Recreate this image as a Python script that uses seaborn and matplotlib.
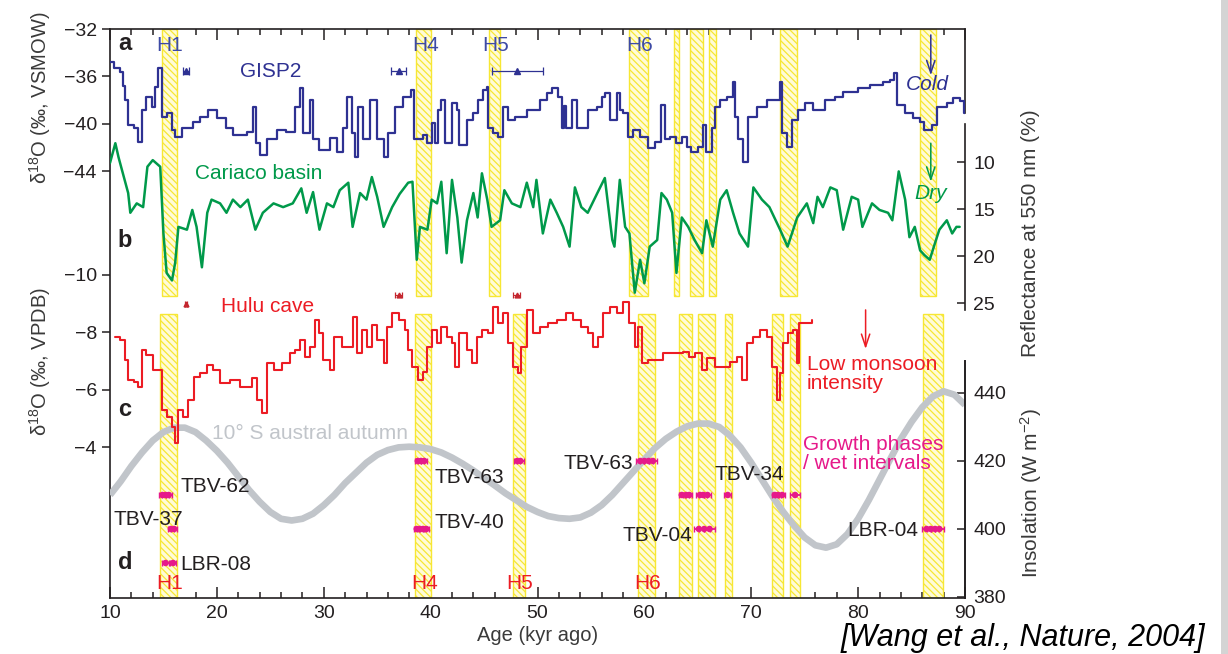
import numpy as np
import pandas as pd
import matplotlib
matplotlib.use("Agg")
import matplotlib.pyplot as plt
from matplotlib.patches import Rectangle
import seaborn as sns

sns.set_style("ticks")
plt.rcParams["font.family"] = ["Liberation Sans", "DejaVu Sans"]
plt.rcParams["mathtext.fontset"] = "custom"
plt.rcParams["mathtext.rm"] = "Liberation Sans"
plt.rcParams["mathtext.it"] = "Liberation Sans:italic"
plt.rcParams["mathtext.default"] = "regular"
plt.rcParams["hatch.linewidth"] = 0.9

# ---------------- data ----------------
gisp_age = [10.0, 10.4, 10.9, 11.2, 11.4, 11.7, 12.2, 12.6, 13.0, 13.4, 13.9, 14.2, 14.5, 14.9, 15.3, 15.8,
            16.1, 16.7, 17.8, 18.4, 19.2, 20.0, 20.9, 21.5, 22.8, 23.4, 23.7, 24.0, 24.7, 25.6, 26.5, 27.3,
            27.8, 28.1, 28.7, 29.0, 29.6, 30.6, 31.2, 31.8, 32.2, 32.6, 32.9, 33.2, 33.7, 34.3, 35.0, 35.6,
            36.0, 36.7, 37.4, 38.2, 38.4, 39.3, 39.7, 40.1, 40.4, 40.7, 41.0, 41.3, 42.0, 42.5, 42.7, 43.4,
            44.0, 44.4, 44.9, 45.3, 45.4, 45.8, 46.3, 46.8, 47.2, 47.9, 49.0, 50.2, 50.9, 51.4, 51.9, 52.3,
            52.5, 52.7, 53.2, 53.7, 54.7, 55.6, 56.0, 56.3, 56.8, 57.4, 57.7, 58.0, 58.5, 58.9, 59.6, 60.3,
            61.0, 61.6, 61.9, 62.4, 63.0, 63.5, 64.0, 64.4, 65.0, 65.5, 65.8, 66.3, 66.6, 67.1, 67.7, 68.3,
            68.5, 68.8, 69.2, 69.7, 70.5, 71.5, 72.7, 72.9, 73.3, 73.8, 74.4, 75.0, 75.8, 76.9, 77.8, 78.6,
            80.0, 81.1, 82.3, 83.0, 83.4, 83.6, 84.4, 85.1, 85.8, 86.2, 86.9, 87.4, 88.3, 88.9, 89.5, 89.9, 90.0]
gisp_d18o = [-34.8, -35.3, -35.6, -36.8, -38.0, -40.1, -40.3, -41.5, -38.8, -37.7, -38.6, -36.9, -35.3, -39.4, -39.1, -40.5,
             -41.1, -40.3, -39.8, -39.4, -38.8, -39.5, -40.3, -40.9, -40.7, -38.6, -41.6, -42.6, -41.3, -40.5, -40.7, -38.6,
             -37.0, -40.8, -38.0, -41.3, -42.2, -41.2, -42.4, -40.3, -37.7, -40.8, -42.8, -38.6, -41.3, -38.0, -41.3, -42.8,
             -40.8, -38.6, -37.7, -37.1, -41.3, -40.9, -41.6, -39.9, -41.6, -38.8, -38.0, -41.6, -38.2, -38.8, -41.8, -39.7,
             -39.1, -38.0, -37.1, -36.9, -40.3, -40.8, -41.1, -38.6, -39.7, -39.4, -38.8, -38.0, -37.4, -37.0, -37.7, -40.3,
             -38.5, -40.3, -38.0, -40.3, -38.8, -38.6, -37.7, -37.4, -39.7, -37.4, -38.8, -39.1, -41.1, -40.5, -41.1, -42.0,
             -41.5, -38.4, -41.3, -41.1, -41.6, -41.1, -41.9, -42.4, -41.9, -40.1, -42.4, -40.3, -38.6, -38.0, -37.7, -36.5,
             -39.4, -41.3, -43.2, -39.4, -38.6, -38.0, -36.5, -40.8, -41.9, -39.7, -38.8, -38.2, -38.8, -38.0, -37.7, -37.3,
             -37.0, -36.7, -36.5, -36.3, -35.7, -38.4, -39.1, -39.5, -39.8, -40.5, -40.1, -38.6, -38.2, -37.8, -38.1, -39.1, -39.1]

cariaco_age = [10.0, 10.5, 10.8, 11.2, 11.7, 11.9, 12.5, 13.1, 13.5, 14.0, 14.7, 15.0, 15.3, 15.8, 16.1, 16.4,
               17.2, 17.7, 18.1, 18.6, 19.1, 19.5, 20.3, 20.9, 21.5, 22.2, 22.9, 23.6, 24.3, 25.3, 26.2, 27.1,
               27.9, 28.4, 29.0, 29.6, 30.3, 30.9, 31.5, 32.3, 32.7, 33.4, 34.0, 34.5, 35.0, 35.6, 36.4, 37.1,
               37.9, 38.3, 38.7, 39.0, 39.7, 40.1, 40.6, 41.0, 41.5, 42.0, 42.5, 42.9, 43.4, 44.0, 44.4, 44.8,
               45.3, 45.7, 46.5, 46.9, 47.6, 48.4, 49.0, 49.6, 49.9, 50.5, 51.2, 51.8, 52.4, 53.0, 53.5, 54.1,
               54.7, 55.6, 56.3, 57.0, 57.2, 57.7, 58.2, 58.6, 59.1, 59.6, 60.0, 60.5, 61.2, 61.6, 62.1, 62.6,
               63.0, 63.5, 64.1, 64.7, 65.4, 65.8, 66.4, 67.1, 67.7, 68.3, 68.9, 69.7, 70.2, 71.0, 71.7, 72.7,
               73.4, 74.3, 75.2, 75.8, 76.2, 76.7, 77.4, 78.0, 78.6, 79.4, 80.0, 80.4, 81.3, 82.0, 82.8, 83.2,
               83.8, 84.4, 84.8, 85.3, 85.8, 86.2, 86.7, 87.2, 87.6, 88.3, 88.8, 89.2, 89.5]
cariaco_refl = [10.1, 8.0, 9.5, 11.2, 13.3, 15.4, 14.4, 14.8, 10.5, 9.8, 10.5, 17.6, 21.8, 22.6, 20.7, 16.9,
                17.2, 15.1, 16.9, 21.2, 15.4, 14.0, 14.4, 15.4, 14.0, 14.8, 14.0, 17.2, 15.4, 14.4, 14.8, 14.4,
                12.8, 15.4, 13.2, 17.2, 14.4, 14.8, 13.0, 12.2, 16.9, 13.3, 14.0, 11.6, 13.7, 16.9, 14.8, 13.4,
                12.2, 12.1, 20.4, 16.9, 17.2, 14.0, 14.4, 12.1, 19.7, 11.9, 15.9, 20.7, 16.2, 13.3, 15.9, 11.2,
                14.0, 16.9, 16.2, 13.0, 14.4, 14.8, 12.2, 14.8, 11.9, 17.6, 14.0, 15.4, 16.9, 19.0, 12.7, 14.8,
                15.4, 13.3, 11.7, 18.3, 19.0, 11.9, 16.9, 17.6, 23.9, 20.4, 22.9, 19.0, 18.3, 13.3, 14.0, 15.4,
                21.8, 15.9, 16.9, 18.3, 19.7, 16.2, 19.0, 14.0, 13.0, 15.4, 17.6, 19.0, 12.7, 14.0, 14.8, 17.2,
                19.0, 15.9, 14.4, 16.5, 13.7, 14.8, 12.7, 13.0, 17.2, 13.7, 14.0, 16.9, 14.4, 15.1, 15.4, 16.2,
                11.0, 14.0, 18.0, 16.9, 19.4, 19.9, 20.4, 18.6, 17.2, 16.2, 17.6, 16.9, 16.9]

hulu_age = [10.5, 10.9, 11.4, 11.7, 12.2, 12.6, 13.0, 13.4, 14.0, 14.5, 14.9, 15.3, 15.8, 16.1, 16.4, 16.8,
            17.3, 17.9, 18.4, 19.1, 19.6, 20.3, 21.2, 22.2, 23.3, 23.8, 24.2, 24.7, 25.3, 26.1, 26.8, 27.3,
            27.8, 28.2, 28.7, 29.2, 29.6, 29.9, 30.6, 31.0, 31.7, 32.3, 32.7, 33.1, 33.6, 34.0, 34.5, 35.0,
            35.6, 35.9, 36.4, 37.0, 37.6, 37.9, 38.3, 38.8, 39.3, 39.7, 40.1, 40.6, 41.0, 41.5, 42.0, 42.3,
            42.7, 43.4, 43.9, 44.3, 44.8, 45.4, 45.8, 46.3, 46.8, 47.2, 47.7, 48.2, 48.5, 49.0, 49.6, 50.2,
            51.0, 51.8, 52.7, 53.3, 54.1, 54.7, 55.2, 55.7, 56.1, 56.8, 57.4, 58.0, 58.6, 59.1, 59.4, 59.8,
            60.3, 61.2, 61.7, 62.7, 63.6, 64.2, 64.7, 65.4, 65.9, 66.6, 67.3, 68.0, 68.7, 69.1, 69.6, 70.2,
            70.8, 71.5, 71.9, 72.4, 72.7, 73.0, 73.4, 73.9, 74.3, 74.5, 75.2, 75.7]
hulu_d18o = [-7.83, -7.72, -7.03, -6.33, -6.26, -6.09, -7.37, -7.20, -6.68, -6.68, -5.29, -5.04, -4.70, -4.14, -5.29, -5.04,
             -5.63, -6.43, -6.57, -6.85, -6.68, -6.23, -6.33, -6.09, -6.40, -5.63, -5.18, -6.92, -6.68, -6.92, -7.27, -7.37,
             -7.72, -7.13, -7.48, -8.42, -7.97, -7.03, -6.68, -7.83, -7.48, -7.48, -8.52, -7.27, -8.07, -7.48, -8.24, -7.72,
             -6.92, -8.17, -8.66, -8.42, -8.07, -7.37, -6.78, -6.33, -6.61, -7.48, -8.07, -7.62, -8.17, -7.83, -7.62, -6.78,
             -7.97, -7.37, -6.92, -7.83, -8.07, -7.97, -8.87, -8.31, -8.66, -7.62, -6.78, -6.57, -7.48, -8.77, -7.97, -8.17,
             -8.31, -8.42, -8.66, -8.42, -8.17, -7.97, -7.48, -7.83, -8.66, -8.87, -8.66, -9.04, -8.31, -7.48, -8.17, -6.92,
             -7.03, -7.03, -7.27, -7.27, -7.30, -7.13, -7.27, -6.68, -7.10, -6.78, -6.78, -6.96, -7.13, -6.33, -7.62, -7.83,
             -8.07, -7.83, -6.78, -5.63, -6.57, -7.62, -7.97, -8.07, -6.92, -8.31, -8.31, -8.42]

insol_age = list(range(10, 91))
insol_wm2 = [410, 414, 418.5, 422.5, 426, 428.5, 429.8, 429.8, 428.5, 426, 423, 419.5, 415.5, 411.5, 408, 405,
             403, 402.5, 403, 404.5, 407, 410, 413.5, 416.5, 419.5, 421.8, 423.2, 424, 424.2, 424, 423.5, 422.5,
             421, 419.2, 417.2, 415, 412.8, 410.5, 408.5, 406.5, 405, 403.8, 403.2, 403, 403.4, 404.8, 407, 410,
             413.5, 417, 420.5, 423.8, 426.5, 428.6, 430.2, 431, 431, 430, 427.5, 424, 419.5, 414.5, 409.5, 405,
             401, 397.5, 395.2, 394.5, 395.5, 398.5, 403, 408.5, 414.5, 420.5, 426.5, 431.5, 435.8, 439, 440.5,
             439.5, 436.5]

# growth phases (stalagmite ages, kyr) and their row on the insolation scale
gp_age = [14.9, 15.2, 15.5, 15.7, 16.0, 15.2, 15.9,
          38.8, 39.1, 39.4, 38.7, 39.0, 39.3, 39.6,
          48.1, 48.4,
          59.6, 60.0, 60.4, 60.8,
          63.5, 63.9, 64.2, 65.2, 65.5, 65.9, 67.8, 72.2, 72.5, 72.9, 74.1,
          65.1, 65.6, 66.1,
          86.4, 86.8, 87.2, 87.6]
gp_err = [0.3, 0.3, 0.3, 0.25, 0.25, 0.3, 0.3,
          0.3, 0.3, 0.3, 0.25, 0.25, 0.25, 0.25,
          0.3, 0.3,
          0.4, 0.4, 0.4, 0.4,
          0.3, 0.3, 0.3, 0.35, 0.35, 0.35, 0.35, 0.3, 0.3, 0.3, 0.5,
          0.5, 0.5, 0.5,
          0.4, 0.4, 0.4, 0.4]
gp_row = [410, 410, 410, 400, 400, 390, 390,
          420, 420, 420, 400, 400, 400, 400,
          420, 420,
          420, 420, 420, 420,
          410, 410, 410, 410, 410, 410, 410, 410, 410, 410, 410,
          400, 400, 400,
          400, 400, 400, 400]

# GISP2 and Hulu age control points
gisp_tie_age = [17.1, 37.0, 48.1]
gisp_tie_err = [0.3, 0.7, 2.4]
hulu_tie_age = [17.1, 37.0, 48.05]
hulu_tie_err = [0.08, 0.3, 0.35]
hulu_tie_val = [-8.97, -9.29, -9.29]

# hatched intervals (kyr)
upper_bands = [(14.9, 16.3), (38.6, 40.0), (45.5, 46.5), (58.6, 60.3), (62.8, 63.2),
               (64.3, 65.5), (66.0, 66.7), (72.7, 74.3), (85.8, 87.3)]
lower_bands = [(14.7, 16.3), (38.5, 40.0), (47.7, 48.8), (59.4, 61.0), (63.2, 64.5),
               (65.0, 66.6), (67.5, 68.2), (71.9, 73.0), (73.6, 74.6), (86.1, 87.9)]

heinrich = ["H1", "H4", "H5", "H6"]
h_top_x = [15.6, 39.5, 46.1, 59.6]
h_bot_x = [15.6, 39.4, 48.3, 60.3]

# ---------------- styling ----------------
BLUE = "#2e3192"
GREEN = "#00994a"
RED = "#ec1c24"
MAG = "#e6198a"
GRAY = "#c1c5ca"
INK = "#231f20"
BAND_FC = "#fffbd8"
BAND_EC = "#f7e733"

fig = plt.figure(figsize=(12.28, 6.54), dpi=100)
L, R, B, T = 110 / 1228, 965 / 1228, 1 - 598 / 654, 1 - 29 / 654
ax = fig.add_axes([L, B, R - L, T - B])
ax_d = ax.twinx()   # insolation
ax_b = ax.twinx()   # Cariaco reflectance
ax_c = ax.twinx()   # Hulu

ax.set_xlim(10, 90)
ax.set_ylim(-79.92, -32)
ax_b.set_ylim(56.38, -4.15)
ax_c.set_ylim(1.25, -18.54)
ax_d.set_ylim(379.7, 547.06)

# bands
for x0, x1 in upper_bands:
    ax.axvspan(x0, x1, ymin=0.531, ymax=1.0, facecolor=BAND_FC, edgecolor=BAND_EC,
               hatch="\\\\\\\\\\", lw=1.0, zorder=1)
for x0, x1 in lower_bands:
    ax.axvspan(x0, x1, ymin=0.0, ymax=0.499, facecolor=BAND_FC, edgecolor=BAND_EC,
               hatch="\\\\\\\\\\", lw=1.0, zorder=1)

# series
sns.lineplot(x=gisp_age, y=gisp_d18o, ax=ax, color=BLUE, lw=1.6, drawstyle="steps-post",
             estimator=None, sort=False, zorder=3)
sns.lineplot(x=insol_age, y=insol_wm2, ax=ax_d, color=GRAY, lw=4.8, estimator=None,
             sort=False, zorder=2, solid_capstyle="butt")
sns.lineplot(x=cariaco_age, y=cariaco_refl, ax=ax_b, color=GREEN, lw=1.8, estimator=None,
             sort=False, zorder=3)
sns.lineplot(x=hulu_age, y=hulu_d18o, ax=ax_c, color=RED, lw=1.5, drawstyle="steps-post",
             estimator=None, sort=False, zorder=3)

# growth phases
ax_d.errorbar(gp_age, gp_row, xerr=gp_err, fmt="none", ecolor=MAG, elinewidth=1.3,
              capsize=2.5, capthick=1.0, zorder=4)
sns.scatterplot(x=gp_age, y=gp_row, ax=ax_d, color=MAG, s=22, edgecolor="none", zorder=5)

# age control points
gisp_tie_y = [-35.55] * len(gisp_tie_age)
ax.errorbar(gisp_tie_age, gisp_tie_y, xerr=gisp_tie_err, fmt="^", color=BLUE, ms=5,
            elinewidth=0.9, capsize=3, capthick=0.9, zorder=4)
ax_c.errorbar(hulu_tie_age, hulu_tie_val, xerr=hulu_tie_err, fmt="^", color="#c4262e",
              ms=3.5, elinewidth=0.9, capsize=2.5, capthick=0.9, zorder=4)

# axes / ticks
for a in (ax_b, ax_c, ax_d):
    for s in a.spines.values():
        s.set_visible(False)
for s in ax.spines.values():
    s.set_color(INK)
    s.set_linewidth(1.2)
ax.spines["right"].set_bounds(-39.1, -32)
ax_b.spines["right"].set_visible(True)
ax_b.spines["right"].set_bounds(6.0, 25.7)
ax_b.spines["right"].set_color(INK)
ax_b.spines["right"].set_linewidth(1.2)
ax_d.spines["right"].set_visible(True)
ax_d.spines["right"].set_bounds(379.7, 449.4)
ax_d.spines["right"].set_color(INK)
ax_d.spines["right"].set_linewidth(1.4)

ax.set_xticks(range(10, 91, 10))
ax.set_xticks(np.arange(10, 91, 2), minor=True)
ax.tick_params(axis="x", which="both", direction="in", top=True, bottom=True,
               labelsize=14, colors=INK, width=1.1, pad=5)
ax.tick_params(axis="x", which="major", length=8)
ax.tick_params(axis="x", which="minor", length=4.5)

ax.set_yticks([-32, -36, -40, -44])
ax.yaxis.tick_left()
ax.tick_params(axis="y", direction="out", length=6, width=1.1, labelsize=14, colors=INK)

ax_c.yaxis.tick_left()
ax_c.set_yticks([-10, -8, -6, -4])
ax_c.tick_params(axis="y", direction="out", length=6, width=1.1, labelsize=14, colors=INK)

ax_b.set_yticks([10, 15, 20, 25])
ax_b.tick_params(axis="y", direction="in", length=6, width=1.1, labelsize=14, colors=INK, pad=6)
ax_d.set_yticks([380, 400, 420, 440])
ax_d.tick_params(axis="y", direction="in", length=6, width=1.1, labelsize=14, colors=INK, pad=6)

for a in (ax, ax_b, ax_c, ax_d):
    a.set_ylabel("")
    a.set_xlabel("")
ax.set_xlabel("Age (kyr ago)", fontsize=14.5, color="#3a3a3a", labelpad=3)

# axis titles
fig.text(40 / 1228, 1 - 98 / 654, r"δ$^{18}$O (‰, VSMOW)", rotation=90, ha="center",
         va="center", fontsize=14.5, color="#3a3a3a")
fig.text(40 / 1228, 1 - 361 / 654, r"δ$^{18}$O (‰, VPDB)", rotation=90, ha="center",
         va="center", fontsize=14.5, color="#3a3a3a")
fig.text(1031 / 1228, 1 - 233 / 654, "Reflectance at 550 nm (%)", rotation=90, ha="center",
         va="center", fontsize=15, color="#3a3a3a")
fig.text(1031 / 1228, 1 - 493 / 654, r"Insolation (W m$^{-2}$)", rotation=90, ha="center",
         va="center", fontsize=15, color="#3a3a3a")

# panel letters
ax.text(11.4, -33.2, "a", fontsize=17, fontweight="bold", color=INK, ha="center", va="center")
ax_b.text(11.4, 18.3, "b", fontsize=17, fontweight="bold", color=INK, ha="center", va="center")
ax_c.text(11.4, -5.29, "c", fontsize=17, fontweight="bold", color=INK, ha="center", va="center")
ax_d.text(11.4, 390.0, "d", fontsize=17, fontweight="bold", color=INK, ha="center", va="center")

# Heinrich labels
for lab, xt, xb in zip(heinrich, h_top_x, h_bot_x):
    ax.text(xt, -33.35, lab, fontsize=15, color="#3d4aa5", ha="center", va="center")
    ax_d.text(xb, 384.1, lab, fontsize=15, color=RED, ha="center", va="center")

# series labels
ax.text(25.0, -35.55, "GISP2", fontsize=15, color=BLUE, ha="center", va="center")
ax_b.text(23.9, 11.2, "Cariaco basin", fontsize=15, color=GREEN, ha="center", va="center")
ax_c.text(24.7, -8.9, "Hulu cave", fontsize=15, color=RED, ha="center", va="center")
ax.text(86.5, -36.7, "Cold", fontsize=15, color=BLUE, style="italic", ha="center", va="center")
ax_b.text(86.8, 13.3, "Dry", fontsize=15, color=GREEN, style="italic", ha="center", va="center")
ax_c.text(75.2, -6.54, "Low monsoon\nintensity", fontsize=15, color=RED, ha="left",
          va="center", linespacing=1.0)
ax_d.text(19.55, 428.2, "10° S austral autumn", fontsize=15, color=GRAY, ha="left", va="center")
ax_d.text(74.8, 422.1, "Growth phases\n/ wet intervals", fontsize=15, color=MAG, ha="left",
          va="center", linespacing=1.0)

# arrows
arrow = dict(arrowstyle="->,head_length=0.9,head_width=0.3", lw=1.1, shrinkA=0, shrinkB=0)
ax.annotate("", xy=(86.8, -35.9), xytext=(86.8, -32.5), arrowprops=dict(color=BLUE, **arrow))
ax_b.annotate("", xy=(86.8, 12.1), xytext=(86.8, 8.0), arrowprops=dict(color=GREEN, **arrow))
ax_c.annotate("", xy=(80.7, -7.41), xytext=(80.7, -8.77), arrowprops=dict(color=RED, **arrow))

# sample names
samples = [("TBV-62", 16.55, 412.6, "left"), ("TBV-37", 16.8, 402.9, "right"),
           ("LBR-08", 16.55, 389.7, "left"), ("TBV-63", 40.4, 415.0, "left"),
           ("TBV-40", 40.4, 402.0, "left"), ("TBV-63", 58.95, 419.4, "right"),
           ("TBV-34", 66.6, 415.9, "left"), ("TBV-04", 64.5, 398.2, "right"),
           ("LBR-04", 85.6, 399.7, "right")]
for name, sx, sy, ha in samples:
    ax_d.text(sx, sy, name, fontsize=15, color=INK, ha=ha, va="center")

# citation
fig.text(1023 / 1228, 1 - 646 / 654, "[Wang et al., Nature, 2004]", fontsize=22,
         style="italic", color="black", ha="center", va="baseline")

# right edge shadow of the screenshot
fig.patches.append(Rectangle((1221 / 1228, 0), 7 / 1228, 1, transform=fig.transFigure,
                             facecolor="#d4d4d4", edgecolor="none"))

fig.savefig("out.png", dpi=100)
